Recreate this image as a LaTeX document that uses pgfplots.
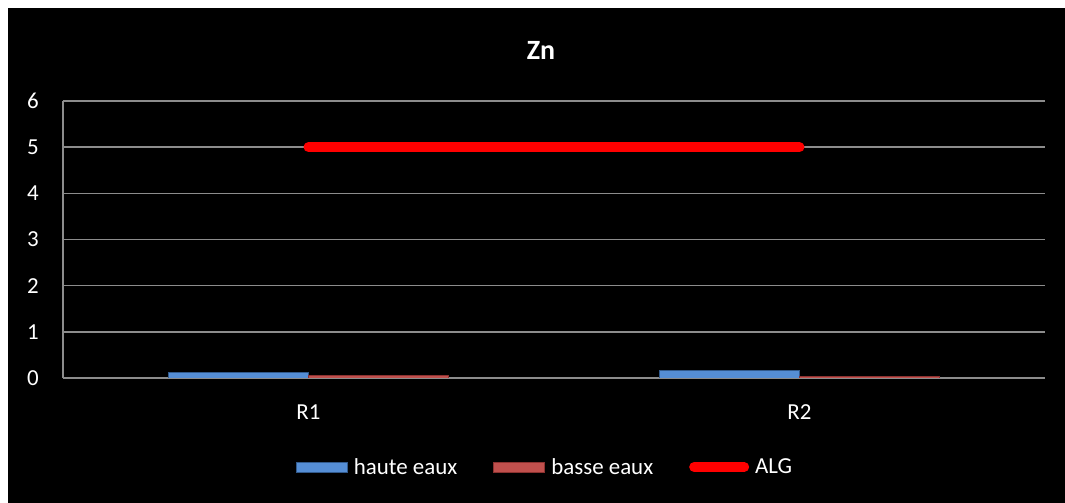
\documentclass[border=0pt]{standalone}
\usepackage{fontspec}
\setmainfont{Carlito}
\usepackage{pgfplots}
\pgfplotsset{compat=1.18}
\definecolor{hauteC}{RGB}{85,142,213}
\definecolor{hauteE}{RGB}{50,90,140}
\definecolor{basseC}{RGB}{192,80,77}
\definecolor{basseE}{RGB}{140,50,48}
\definecolor{gridC}{RGB}{140,140,140}
\begin{document}
\begin{tikzpicture}
\fill[white] (0,0) rectangle (1065bp,503bp);
\fill[black] (8bp,0) rectangle (1065bp,495bp);
\node[text=white, font=\fontsize{28}{32}\selectfont\bfseries] at (541bp,453bp) {Zn};
\begin{axis}[
  at={(63bp,125bp)}, anchor=south west,
  scale only axis, width=982bp, height=277bp,
  xmin=-0.5, xmax=1.5, ymin=0, ymax=6,
  xtick={0,1}, xticklabels={R1,R2},
  ytick={0,1,2,3,4,5,6},
  major tick length=0pt,
  axis y line*=left, axis x line*=bottom,
  x axis line style={draw=none},
  y axis line style={draw=gridC, line width=1.6bp},
  ymajorgrids, grid style={draw=gridC, line width=1.6bp},
  /pgf/number format/assume math mode=true,
  tick label style={text=white, font=\fontsize{23}{27}\selectfont},
  yticklabel style={anchor=center, xshift=-30bp},
  xticklabel style={anchor=center, yshift=-34bp},
  legend columns=3,
  legend style={at={(0.4908,-0.3213)}, anchor=center, draw=none, fill=none,
    text=white, font=\fontsize{23}{27}\selectfont,
    /tikz/every odd column/.append style={column sep=4bp},
    /tikz/every even column/.append style={column sep=34bp}},
]
\addplot[ybar, bar width=140bp, bar shift=-70bp, fill=hauteC, draw=hauteE, line width=1bp,
  legend image code/.code={\draw[fill=hauteC, draw=hauteE, line width=1bp] (0bp,-5bp) rectangle (51bp,5bp);}]
  coordinates {(0,0.12) (1,0.16)};
\addlegendentry{haute eaux}
\addplot[ybar, bar width=140bp, bar shift=70bp, fill=basseC, draw=basseE, line width=1bp,
  legend image code/.code={\draw[fill=basseC, draw=basseE, line width=1bp] (0bp,-5bp) rectangle (51bp,5bp);}]
  coordinates {(0,0.05) (1,0.035)};
\addlegendentry{basse eaux}
\addplot[sharp plot, draw=red, line width=10bp, line cap=round, mark=none,
  legend image code/.code={\draw[red, line width=10bp, line cap=round] (5bp,0) -- (55bp,0);}]
  coordinates {(0,5) (1,5)};
\addlegendentry{ALG}
\end{axis}
\pgfresetboundingbox
\useasboundingbox (0,0) rectangle (1065bp,503bp);
\end{tikzpicture}
\end{document}
